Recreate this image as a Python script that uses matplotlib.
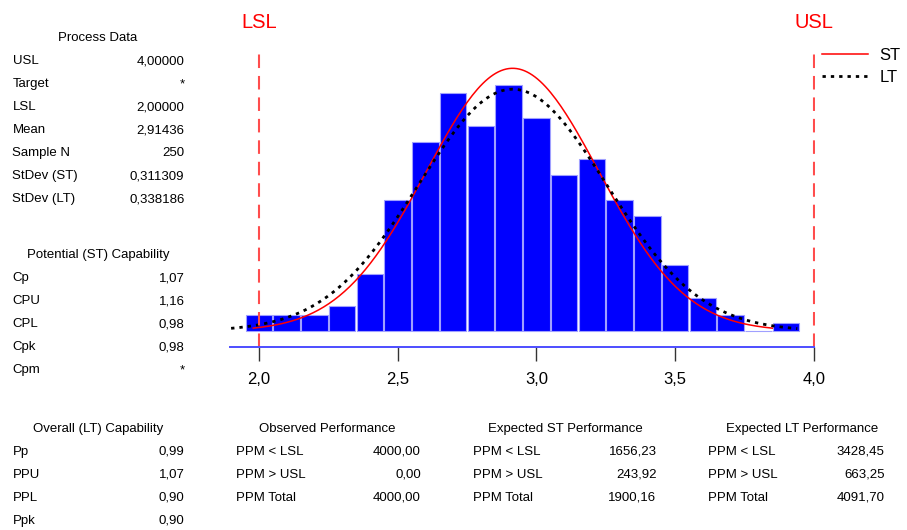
import numpy as np
import matplotlib
matplotlib.use("Agg")
import matplotlib.pyplot as plt

plt.rcParams['font.family'] = ['Liberation Sans', 'DejaVu Sans']

# process data
usl, lsl = 4.0, 2.0
mean = 2.91436
n = 250
sd_st, sd_lt = 0.311309, 0.338186
bin_w = 0.1

bin_centers = [2.0, 2.1, 2.2, 2.3, 2.4, 2.5, 2.6, 2.7, 2.8, 2.9,
               3.0, 3.1, 3.2, 3.3, 3.4, 3.5, 3.6, 3.7, 3.8, 3.9]
counts = [2, 2, 2, 3, 7, 16, 23, 29, 25, 30,
          26, 19, 21, 16, 14, 8, 4, 2, 0, 1]

process_rows = [("USL", "4,00000"), ("Target", "*"), ("LSL", "2,00000"),
                ("Mean", "2,91436"), ("Sample N", "250"),
                ("StDev (ST)", "0,311309"), ("StDev (LT)", "0,338186")]
potential_rows = [("Cp", "1,07"), ("CPU", "1,16"), ("CPL", "0,98"),
                  ("Cpk", "0,98"), ("Cpm", "*")]
overall_rows = [("Pp", "0,99"), ("PPU", "1,07"), ("PPL", "0,90"), ("Ppk", "0,90")]
observed_rows = [("PPM < LSL", "4000,00"), ("PPM > USL", "0,00"), ("PPM Total", "4000,00")]
exp_st_rows = [("PPM < LSL", "1656,23"), ("PPM > USL", "243,92"), ("PPM Total", "1900,16")]
exp_lt_rows = [("PPM < LSL", "3428,45"), ("PPM > USL", "663,25"), ("PPM Total", "4091,70")]

W, H = 907, 530
fig = plt.figure(figsize=(W / 100, H / 100), dpi=100)


def px(x, y):
    return x / W, 1 - y / H


ax = fig.add_axes([230 / W, 1 - 347 / H, 585 / W, 307 / H])
ax.bar(bin_centers, counts, width=0.096, color="#0000ff", edgecolor="#a0a0ff", linewidth=0.8)


def normal_curve(sd, x0, x1):
    x = np.linspace(x0, x1, 200)
    y = n * bin_w / (sd * np.sqrt(2 * np.pi)) * np.exp(-0.5 * ((x - mean) / sd) ** 2)
    return x, y


xs, ys = normal_curve(sd_st, 1.98, 3.85)
xl, yl = normal_curve(sd_lt, 1.90, 3.94)
ax.plot(xs, ys, color="#ff0000", lw=1.1, label="ST")
ax.plot(xl, yl, color="black", lw=2.0, linestyle=(0, (1.2, 1.8)), label="LT")

for v in (lsl, usl):
    ax.plot([v, v], [-1.95, 33.9], color="#ff4d4d", lw=1.5, linestyle=(0, (6.5, 3.8)))

ax.set_xlim(1.896, 4.004)
ax.set_ylim(-1.95, 35.49)
for s in ("top", "left", "right"):
    ax.spines[s].set_visible(False)
ax.spines["bottom"].set_color("#4d4dff")
ax.spines["bottom"].set_linewidth(1.4)
ax.spines["bottom"].set_bounds(1.896, 4.0)
ax.set_yticks([])
ax.set_xticks([2.0, 2.5, 3.0, 3.5, 4.0])
ax.set_xticklabels(["2,0", "2,5", "3,0", "3,5", "4,0"], fontsize=12)
ax.tick_params(axis="x", length=10, width=1.0, color="#333333", pad=8)

ax.legend(loc="upper left", bbox_to_anchor=px(822, 48), bbox_transform=fig.transFigure,
          frameon=False, fontsize=12, handlelength=2.75, handletextpad=0.7,
          labelspacing=0.42, borderpad=0, borderaxespad=0)

fig.text(*px(259, 27.5), "LSL", color="#ff0000", fontsize=14.5, ha="center", va="baseline")
fig.text(*px(814, 27.5), "USL", color="#ff0000", fontsize=14.5, ha="center", va="baseline")

fs = 9.5
base = 4.7  # half cap height in px, centre -> baseline


def table(title, rows, x_title, y_title, x_lab, x_val):
    fig.text(*px(x_title, y_title + base), title, fontsize=fs, ha="center", va="baseline")
    for i, (lab, val) in enumerate(rows):
        y = y_title + 23 * (i + 1) + base
        fig.text(*px(x_lab, y), lab, fontsize=fs, ha="left", va="baseline")
        fig.text(*px(x_val, y), val, fontsize=fs, ha="right", va="baseline")


table("Process Data", process_rows, 98, 36.5, 12.5, 184.5)
table("Potential (ST) Capability", potential_rows, 98, 253.5, 12.5, 184.5)
table("Overall (LT) Capability", overall_rows, 98, 427, 12.5, 184.5)
table("Observed Performance", observed_rows, 327.5, 427, 236.5, 421)
table("Expected ST Performance", exp_st_rows, 565, 427, 472.5, 656.5)
table("Expected LT Performance", exp_lt_rows, 802, 427, 708, 884.5)

fig.savefig("out.png", dpi=100)
